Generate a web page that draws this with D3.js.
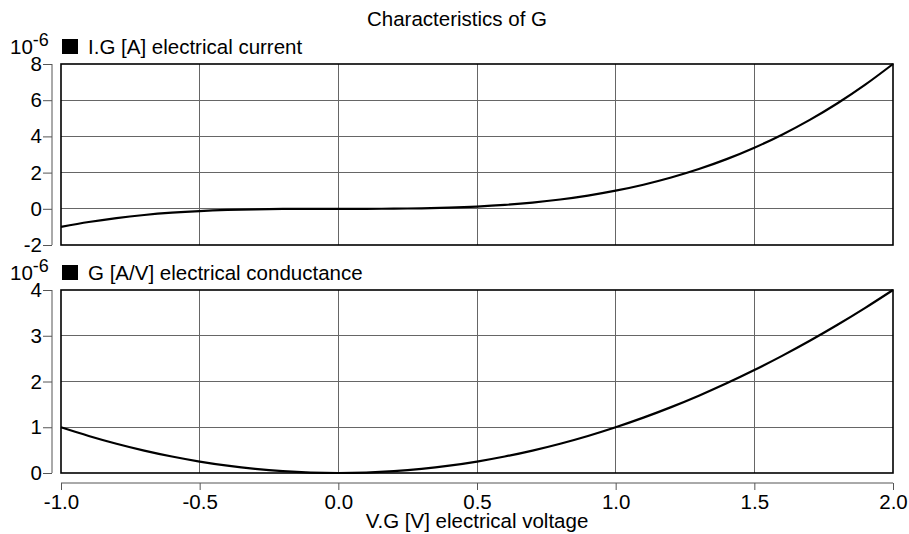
<!DOCTYPE html>
<html>
<head>
<meta charset="utf-8">
<script src="https://cdn.jsdelivr.net/npm/d3@7"></script>
<style>
  body { margin: 0; background: #fff; }
  text { font-family: "Liberation Sans", Arial, sans-serif; fill: #000; }
</style>
</head>
<body>
<svg id="chart" width="909" height="534"></svg>
<script>
// voltage samples (V)
const voltage = [-1.0, -0.9, -0.8, -0.7, -0.6, -0.5, -0.4, -0.3, -0.2, -0.1, 0.0,
  0.1, 0.2, 0.3, 0.4, 0.5, 0.6, 0.7, 0.8, 0.9, 1.0,
  1.1, 1.2, 1.3, 1.4, 1.5, 1.6, 1.7, 1.8, 1.9, 2.0];
// I.G in 1e-6 A
const current = [-1.0, -0.729, -0.512, -0.343, -0.216, -0.125, -0.064, -0.027, -0.008, -0.001, 0.0,
  0.001, 0.008, 0.027, 0.064, 0.125, 0.216, 0.343, 0.512, 0.729, 1.0,
  1.331, 1.728, 2.197, 2.744, 3.375, 4.096, 4.913, 5.832, 6.859, 8.0];
// G in 1e-6 A/V
const conductance = [1.0, 0.81, 0.64, 0.49, 0.36, 0.25, 0.16, 0.09, 0.04, 0.01, 0.0,
  0.01, 0.04, 0.09, 0.16, 0.25, 0.36, 0.49, 0.64, 0.81, 1.0,
  1.21, 1.44, 1.69, 1.96, 2.25, 2.56, 2.89, 3.24, 3.61, 4.0];

const xTicks = [-1.0, -0.5, 0.0, 0.5, 1.0, 1.5, 2.0];
const currentTicks = [-2, 0, 2, 4, 6, 8];
const conductanceTicks = [0, 1, 2, 3, 4];

const title = "Characteristics of G";
const xLabel = "V.G [V] electrical voltage";

const svg = d3.select("#chart");
const fontSize = 20.5;
const left = 61, right = 893;
const gridColor = "#666";
const axisColor = "#555";
const hyphen = s => s.replace("\u2212", "-");

const x = d3.scaleLinear().domain([-1, 2]).range([left, right]);

svg.append("text")
  .attr("x", 457).attr("y", 26)
  .attr("text-anchor", "middle")
  .style("font-size", fontSize + "px")
  .text(title);

function panel(values, ticks, domain, top, bottom, label) {
  const y = d3.scaleLinear().domain(domain).range([bottom, top]);
  const g = svg.append("g");

  // grid
  g.selectAll("line.vgrid").data(xTicks.slice(1, -1)).join("line")
    .attr("x1", d => x(d)).attr("x2", d => x(d))
    .attr("y1", top).attr("y2", bottom)
    .attr("stroke", gridColor).attr("stroke-width", 1).attr("shape-rendering", "crispEdges");
  g.selectAll("line.hgrid").data(ticks.slice(1, -1)).join("line")
    .attr("x1", left).attr("x2", right)
    .attr("y1", d => y(d)).attr("y2", d => y(d))
    .attr("stroke", gridColor).attr("stroke-width", 1).attr("shape-rendering", "crispEdges");

  // frame
  g.append("rect")
    .attr("x", left).attr("y", top)
    .attr("width", right - left).attr("height", bottom - top)
    .attr("fill", "none").attr("stroke", "#000").attr("stroke-width", 1.6);

  // y axis, offset to the left
  const axis = g.append("g")
    .attr("transform", `translate(${left - 9},0)`)
    .call(d3.axisLeft(y).tickValues(ticks).tickSize(9).tickPadding(1)
      .tickFormat(d => hyphen(d3.format("d")(d))));
  axis.selectAll(".domain").attr("stroke", axisColor).attr("d", `M0,${top}V${bottom}`);
  axis.selectAll(".tick line").attr("stroke", axisColor);
  axis.selectAll(".tick text")
    .style("font-size", fontSize + "px")
    .style("font-family", "Liberation Sans, Arial, sans-serif")
    .attr("fill", "#000");

  // curve
  const line = d3.line()
    .x((d, i) => x(voltage[i]))
    .y(d => y(d))
    .curve(d3.curveCatmullRom);
  g.append("path")
    .datum(values)
    .attr("d", line)
    .attr("fill", "none")
    .attr("stroke", "#000")
    .attr("stroke-width", 2.2);

  // 10^-6 label and legend
  const exp = g.append("text")
    .attr("x", 10).attr("y", top - 10)
    .style("font-size", fontSize + "px");
  exp.append("tspan").text("10");
  exp.append("tspan").attr("dy", -8).style("font-size", "18px").text("-6");

  g.append("rect")
    .attr("x", 62).attr("y", top - 25)
    .attr("width", 16).attr("height", 15)
    .attr("fill", "#000");
  g.append("text")
    .attr("x", 88).attr("y", top - 10)
    .style("font-size", fontSize + "px")
    .text(label);
  return y;
}

panel(current, currentTicks, [-2, 8], 64, 245, "I.G [A] electrical current");
panel(conductance, conductanceTicks, [0, 4], 290, 473, "G [A/V] electrical conductance");

// x axis below the lower panel
const xa = svg.append("g")
  .attr("transform", "translate(0,483)")
  .call(d3.axisBottom(x).tickValues(xTicks).tickSize(7).tickPadding(4)
    .tickFormat(d => hyphen(d3.format(".1f")(d))));
xa.selectAll(".domain").attr("stroke", axisColor).attr("d", `M${left},0H${right}`);
xa.selectAll(".tick line").attr("stroke", axisColor);
xa.selectAll(".tick text")
  .style("font-size", fontSize + "px")
  .style("font-family", "Liberation Sans, Arial, sans-serif")
  .attr("fill", "#000");

svg.append("text")
  .attr("x", 477).attr("y", 528)
  .attr("text-anchor", "middle")
  .style("font-size", fontSize + "px")
  .text(xLabel);
</script>
</body>
</html>
